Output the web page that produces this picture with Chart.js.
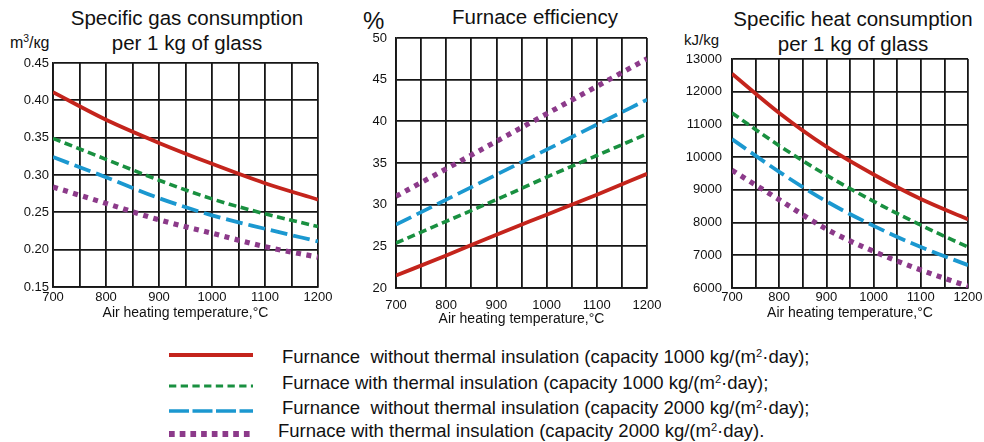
<!DOCTYPE html>
<html>
<head>
<meta charset="utf-8">
<script src="https://cdn.jsdelivr.net/npm/chart.js@4/dist/chart.umd.min.js"></script>
<style>
body { margin: 0; background: #fff; width: 984px; height: 442px; position: relative; overflow: hidden;
       font-family: "Liberation Sans", Arial, sans-serif; color: #111; }
canvas { position: absolute; top: 0; }
.title { position: absolute; width: 400px; text-align: center; font-size: 20.5px; line-height: 25px; }
.unit { position: absolute; white-space: nowrap; }
.unit sup { font-size: 0.65em; }
.row { position: absolute; height: 25px; line-height: 25px; font-size: 18.5px; white-space: pre; }
.row sup { font-size: 0.6em; vertical-align: 0.55em; line-height: 0; }
.sample { position: absolute; left: 169px; }
</style>
</head>
<body>

<div class="title" style="left:-13px; top:5px;">Specific gas consumption<br>per 1 kg of glass</div>
<div class="title" style="left:335px; top:4px;">Furnace efficiency</div>
<div class="title" style="left:653px; top:6px;">Specific heat consumption<br>per 1 kg of glass</div>

<div class="unit" style="left:10px; top:33px; font-size:16px;">m<sup>3</sup>/кg</div>
<div class="unit" style="left:363px; top:7px; font-size:24px;">%</div>
<div class="unit" style="left:684px; top:31px; font-size:15px;">kJ/kg</div>

<canvas id="gas" width="340" height="330" style="left:0px;"></canvas>
<canvas id="efficiency" width="331" height="335" style="left:340px;"></canvas>
<canvas id="heat" width="312" height="330" style="left:672px;"></canvas>

<svg class="sample" style="top:350px;" width="84" height="10"><line x1="0" y1="5" x2="84" y2="5" stroke="#c4241c" stroke-width="4"/></svg>
<svg class="sample" style="top:381px;" width="84" height="10"><line x1="0" y1="5" x2="84" y2="5" stroke="#199040" stroke-width="3" stroke-dasharray="7.3 4.4"/></svg>
<svg class="sample" style="top:406px;" width="84" height="10"><line x1="0" y1="5" x2="84" y2="5" stroke="#1b98d0" stroke-width="3.5" stroke-dasharray="20 3.5"/></svg>
<svg class="sample" style="top:429px;" width="84" height="10"><line x1="0" y1="5" x2="84" y2="5" stroke="#8c3a8a" stroke-width="6" stroke-dasharray="5.7 5"/></svg>

<div class="row" style="left:282px; top:344px;">Furnance  without thermal insulation (capacity 1000 kg/(m<sup>2</sup>·day);</div>
<div class="row" style="left:282px; top:370px;">Furnace with thermal insulation (capacity 1000 kg/(m<sup>2</sup>·day);</div>
<div class="row" style="left:282px; top:395px;">Furnance  without thermal insulation (capacity 2000 kg/(m<sup>2</sup>·day);</div>
<div class="row" style="left:278px; top:418px;">Furnace with thermal insulation (capacity 2000 kg/(m<sup>2</sup>·day).</div>

<script type="text/javascript">
	// air heating temperature, °C
	var temps = [700, 800, 900, 1000, 1100, 1200];

	// specific gas consumption, m3/kg
	var gasNoIns1000 = [0.411, 0.374, 0.343, 0.315, 0.289, 0.267];
	var gasIns1000   = [0.349, 0.321, 0.293, 0.268, 0.248, 0.231];
	var gasNoIns2000 = [0.324, 0.297, 0.269, 0.246, 0.228, 0.211];
	var gasIns2000   = [0.284, 0.262, 0.240, 0.222, 0.204, 0.190];

	// furnace efficiency, %
	var effNoIns1000 = [21.5, 23.9, 26.4, 28.8, 31.2, 33.7];
	var effIns1000   = [25.4, 28.0, 30.6, 33.3, 35.9, 38.5];
	var effNoIns2000 = [27.6, 30.6, 33.6, 36.6, 39.6, 42.6];
	var effIns2000   = [31.0, 34.3, 37.6, 40.9, 44.2, 47.5];

	// specific heat consumption, kJ/kg
	var heatNoIns1000 = [12550, 11350, 10320, 9470, 8720, 8100];
	var heatIns1000   = [11350, 10350, 9450, 8650, 7920, 7250];
	var heatNoIns2000 = [10550, 9550, 8650, 7900, 7250, 6700];
	var heatIns2000   = [9600, 8700, 7800, 7120, 6550, 6050];

	var FONT = '"Liberation Sans", Arial, sans-serif';
	var GRID = '#161616';

	var styles = [
		{ color: '#c4241c', width: 3.8, dash: [] },
		{ color: '#199040', width: 3.6, dash: [8, 4.5] },
		{ color: '#1b98d0', width: 3.8, dash: [17, 6] },
		{ color: '#8c3a8a', width: 5.2, dash: [5, 5.5] }
	];

	function points(values) {
		return temps.map(function(t, i) { return { x: t, y: values[i] }; });
	}

	function makeChart(id, series, s) {
		var datasets = series.map(function(values, i) {
			return {
				data: points(values),
				borderColor: styles[i].color,
				borderWidth: styles[i].width,
				borderDash: styles[i].dash,
				borderCapStyle: 'butt',
				pointRadius: 0,
				fill: false,
				cubicInterpolationMode: 'monotone'
			};
		});
		// later series drawn first, so the red line ends up on top
		datasets.reverse();

		return new Chart(document.getElementById(id), {
			type: 'line',
			data: { datasets: datasets },
			options: {
				responsive: false,
				animation: false,
				events: [],
				layout: { padding: { top: s.top, right: s.right, left: 0, bottom: 0 } },
				plugins: { legend: { display: false }, tooltip: { enabled: false } },
				scales: {
					x: {
						type: 'linear', min: 700, max: 1200,
						afterFit: function(scale) { scale.height = s.xHeight; },
						grid: { color: GRID, lineWidth: 1.8, drawTicks: false },
						border: { color: GRID, width: 1.8 },
						ticks: {
							stepSize: 50, autoSkip: false, maxRotation: 0, padding: s.xPad,
							color: '#111', font: { family: FONT, size: 13 },
							callback: function(v) { return v % 100 === 0 ? String(v) : ''; }
						},
						title: {
							display: true, text: 'Air heating temperature,°C', color: '#111',
							font: { family: FONT, size: 14 }, padding: { top: 0, bottom: s.titlePad }
						}
					},
					y: {
						min: s.min, max: s.max,
						afterFit: function(scale) { scale.width = s.yWidth; },
						grid: { color: GRID, lineWidth: 1.8, drawTicks: false },
						border: { color: GRID, width: 1.8 },
						ticks: {
							stepSize: s.step, padding: s.yPad, color: '#111',
							font: { family: FONT, size: 13 },
							callback: s.format
						}
					}
				}
			}
		});
	}

	makeChart('gas', [gasNoIns1000, gasIns1000, gasNoIns2000, gasIns2000], {
		top: 63, right: 22, xHeight: 43, yWidth: 53, xPad: 2.5, yPad: 4, titlePad: 8.6,
		min: 0.15, max: 0.45, step: 0.05,
		format: function(v) { return v.toFixed(2); }
	});

	makeChart('efficiency', [effNoIns1000, effIns1000, effNoIns2000, effIns2000], {
		top: 38, right: 20, xHeight: 47, yWidth: 56, xPad: 9.5, yPad: 9, titlePad: 7.6,
		min: 20, max: 50, step: 5,
		format: function(v) { return String(v); }
	});

	makeChart('heat', [heatNoIns1000, heatIns1000, heatNoIns2000, heatIns2000], {
		top: 59, right: 15, xHeight: 42, yWidth: 60, xPad: 1.5, yPad: 10, titlePad: 8.6,
		min: 6000, max: 13000, step: 1000,
		format: function(v) { return String(v); }
	});
</script>
</body>
</html>
